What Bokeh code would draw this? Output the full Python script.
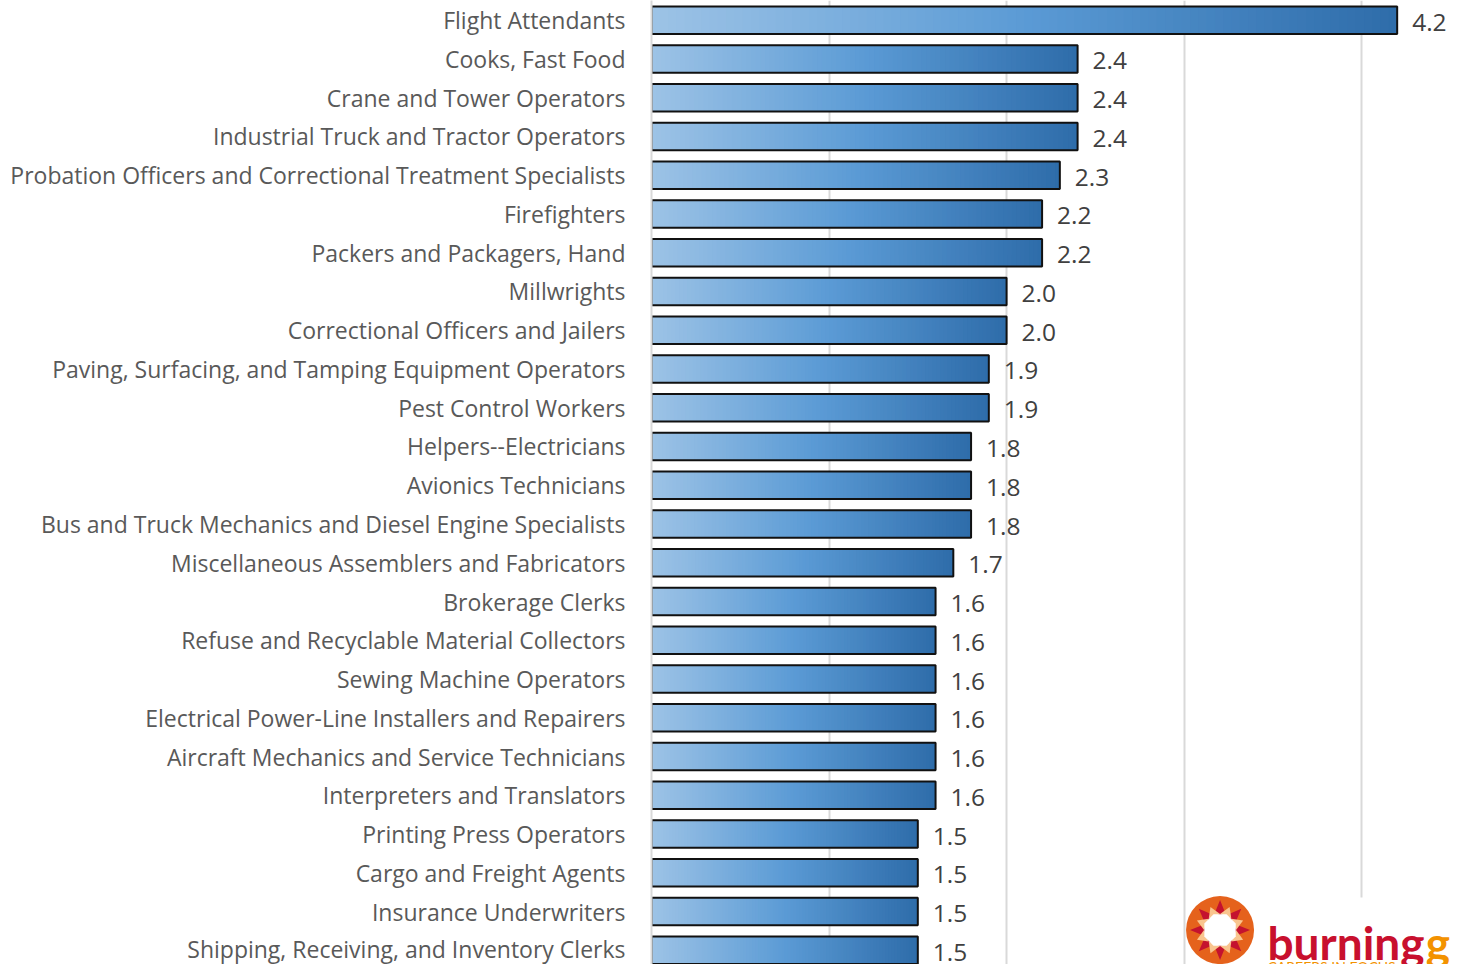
import math
from bokeh.plotting import figure
from bokeh.models import Range1d, FixedTicker, ColumnDataSource
from bokeh.core.properties import value
from bokeh.embed import file_html
from bokeh.resources import INLINE

categories = [
    "Flight Attendants",
    "Cooks, Fast Food",
    "Crane and Tower Operators",
    "Industrial Truck and Tractor Operators",
    "Probation Officers and Correctional Treatment Specialists",
    "Firefighters",
    "Packers and Packagers, Hand",
    "Millwrights",
    "Correctional Officers and Jailers",
    "Paving, Surfacing, and Tamping Equipment Operators",
    "Pest Control Workers",
    "Helpers--Electricians",
    "Avionics Technicians",
    "Bus and Truck Mechanics and Diesel Engine Specialists",
    "Miscellaneous Assemblers and Fabricators",
    "Brokerage Clerks",
    "Refuse and Recyclable Material Collectors",
    "Sewing Machine Operators",
    "Electrical Power-Line Installers and Repairers",
    "Aircraft Mechanics and Service Technicians",
    "Interpreters and Translators",
    "Printing Press Operators",
    "Cargo and Freight Agents",
    "Insurance Underwriters",
    "Shipping, Receiving, and Inventory Clerks",
]
values = [4.2, 2.4, 2.4, 2.4, 2.3, 2.2, 2.2, 2.0, 2.0, 1.9, 1.9, 1.8, 1.8, 1.8,
          1.7, 1.6, 1.6, 1.6, 1.6, 1.6, 1.6, 1.5, 1.5, 1.5, 1.5]
grid_ticks = [1, 2, 3, 4]

W, H = 1450, 964
SX, SY = W / 1466, H / 980
LEFT = 651
S = 179.5 * SX          # px per unit on x
PITCH = 39.4 * SY       # px per row
Y_TOP = -(20 * SY) / PITCH
Y_BOT = Y_TOP + H / PITCH

p = figure(width=W, height=H, output_backend="svg", toolbar_location=None,
           x_axis_location=None, min_border=0, min_border_left=LEFT,
           x_range=Range1d(0, (W - LEFT) / S), y_range=Range1d(Y_BOT, Y_TOP))
p.outline_line_color = None
p.background_fill_color = "white"

p.xgrid.ticker = FixedTicker(ticks=grid_ticks)
p.xgrid.grid_line_color = "#D9D9D9"
p.xgrid.grid_line_width = 2
p.ygrid.grid_line_color = None

idx = list(range(len(categories)))
ax = p.yaxis[0]
ax.ticker = FixedTicker(ticks=idx)
ax.major_label_overrides = {i: c for i, c in enumerate(categories)}
ax.major_label_text_font = "Open Sans"
ax.major_label_text_font_size = "23px"
ax.major_label_text_color = "#595959"
ax.major_label_standoff = 20
ax.major_tick_line_color = None
ax.minor_tick_line_color = None
ax.axis_line_color = "#D9D9D9"
ax.axis_line_width = 2

# gradient fill: each bar split into thin overlapping slices
stops = [(0.0, (157, 195, 230)), (0.5, (91, 155, 213)), (1.0, (46, 108, 170))]
def grad(t):
    for (t0, c0), (t1, c1) in zip(stops[:-1], stops[1:]):
        if t <= t1:
            f = (t - t0) / (t1 - t0)
            r, g, b = (round(a + (bb - a) * f) for a, bb in zip(c0, c1))
            return "#%02x%02x%02x" % (r, g, b)
    return "#%02x%02x%02x" % stops[-1][1]

N = 90
L, R, Yy, C = [], [], [], []
for i, v in enumerate(values):
    for k in range(N):
        L.append(v * k / N)
        R.append(v * min(k + 2, N) / N)
        Yy.append(i)
        C.append(grad((k + 0.5) / N))
p.hbar(y="y", left="l", right="r", height=0.71, fill_color="c", line_color=None,
       source=ColumnDataSource(dict(l=L, r=R, y=Yy, c=C)))
p.hbar(y=idx, left=0, right=values, height=0.71, fill_color=None,
       line_color="#111111", line_width=2)

p.text(x=values, y=idx, text=[f"{v:.1f}" for v in values], x_offset=15, y_offset=2,
       text_baseline="middle", text_align="left", text_font=value("Open Sans"),
       text_font_size="24.5px", text_color="#404040")

# ---- logo (bottom-right corner), positioned in reference pixels ----
def X(px):
    return (px * SX - LEFT) / S
def Y(py):
    return Y_TOP + (py * SY) / PITCH
def dxp(d):
    return d / S
def dyp(d):
    return d / PITCH

p.quad(left=X(1200), right=X(1480), top=Y(912), bottom=Y(1000),
       fill_color="white", line_color=None)
cx, cy = X(1233), Y(945)
p.scatter(x=[cx], y=[cy], size=68, fill_color="#E5621C", line_color=None)

def poly(pts):
    return [cx + dxp(r * math.cos(a)) for r, a in pts], [cy - dyp(r * math.sin(a)) for r, a in pts]

# crimson 8-point star
star = []
for k in range(16):
    a = math.pi / 2 + k * math.pi / 8
    star.append((30 if k % 2 == 0 else 16, a))
sx_, sy_ = poly(star)
p.patch(sx_, sy_, fill_color="#C4122F", line_color=None)
# peach notches
px_list, py_list = [], []
for k in range(8):
    a = math.pi / 2 + math.pi / 8 + k * math.pi / 4
    tri = [(16, a - math.pi / 8), (25, a), (16, a + math.pi / 8)]
    xs, ys = poly(tri)
    px_list.append(xs)
    py_list.append(ys)
p.patches(px_list, py_list, fill_color="#F9C58F", line_color=None)
# white octagon centre
oct_ = [(17, math.pi / 2 + math.pi / 8 + k * math.pi / 4) for k in range(8)]
ox, oy = poly(oct_)
p.patch(ox, oy, fill_color="white", line_color=None)

p.text(x=[X(1281)], y=[Y(958)], text=["burning"], text_font=value("Lato"),
       text_font_style="bold", text_font_size="46px", text_color="#C8102E",
       text_baseline="alphabetic")
p.text(x=[X(1441)], y=[Y(958)], text=["g"], text_font=value("Lato"),
       text_font_style="bold", text_font_size="46px", text_color="#F39200",
       text_baseline="alphabetic")
p.text(x=[X(1281)], y=[Y(982)], text=["CAREERS IN FOCUS"], text_font=value("Lato"),
       text_font_size="14px", text_color="#F39200", text_baseline="alphabetic")

open("out.html", "w").write(file_html(p, INLINE))
